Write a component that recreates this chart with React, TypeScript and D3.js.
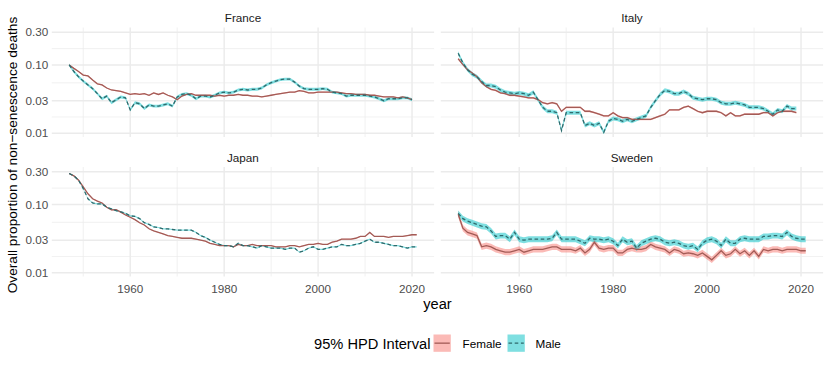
import React from "react";
import * as d3 from "d3";

// ---------- data ----------
const START_YEAR = 1947;

const franceFemale = [
  0.100, 0.089, 0.080, 0.071, 0.069, 0.060, 0.053, 0.051, 0.046, 0.043,
  0.042, 0.041, 0.039, 0.037, 0.038, 0.037, 0.038, 0.036, 0.039, 0.037,
  0.039, 0.036, 0.034, 0.031, 0.035, 0.037, 0.038, 0.036, 0.036, 0.036,
  0.036, 0.035, 0.036, 0.035, 0.036, 0.036, 0.037, 0.036, 0.036, 0.035,
  0.035, 0.034, 0.035, 0.036, 0.037, 0.038, 0.039, 0.040, 0.040, 0.042,
  0.041, 0.039, 0.039, 0.040, 0.040, 0.040, 0.040, 0.040, 0.039, 0.038,
  0.038, 0.037, 0.037, 0.037, 0.036, 0.036, 0.035, 0.034, 0.034, 0.034,
  0.033, 0.034, 0.033, 0.031,
];
const franceMale = [
  0.100, 0.080, 0.067, 0.058, 0.051, 0.045, 0.038, 0.032, 0.035, 0.028,
  0.031, 0.034, 0.033, 0.022, 0.028, 0.027, 0.023, 0.026, 0.025, 0.025,
  0.026, 0.027, 0.025, 0.034, 0.037, 0.038, 0.036, 0.032, 0.035, 0.035,
  0.034, 0.036, 0.039, 0.040, 0.039, 0.040, 0.043, 0.044, 0.043, 0.044,
  0.044, 0.046, 0.051, 0.055, 0.058, 0.061, 0.062, 0.062, 0.056, 0.049,
  0.045, 0.044, 0.044, 0.044, 0.045, 0.044, 0.040, 0.039, 0.038, 0.035,
  0.036, 0.036, 0.036, 0.036, 0.035, 0.034, 0.032, 0.030, 0.032, 0.032,
  0.032, 0.033, 0.033, 0.031,
];
const italyFemale = [
  0.123, 0.101, 0.085, 0.076, 0.067, 0.055, 0.048, 0.044, 0.0425, 0.039,
  0.038, 0.036, 0.036, 0.035, 0.034, 0.033, 0.033, 0.031, 0.028, 0.027,
  0.028, 0.027, 0.021, 0.024, 0.024, 0.024, 0.024, 0.021, 0.021, 0.020,
  0.019, 0.018, 0.018, 0.020, 0.018, 0.017, 0.017, 0.016, 0.016, 0.016,
  0.016, 0.016, 0.017, 0.018, 0.019, 0.022, 0.022, 0.022, 0.024, 0.025,
  0.023, 0.021, 0.020, 0.021, 0.021, 0.021, 0.020, 0.018, 0.020, 0.018,
  0.018, 0.019, 0.019, 0.019, 0.019, 0.020, 0.020, 0.018, 0.020, 0.021,
  0.021, 0.021, 0.020,
];
const italyMale = [
  0.148, 0.107, 0.085, 0.073, 0.067, 0.057, 0.050, 0.050, 0.048, 0.043,
  0.040, 0.039, 0.038, 0.039, 0.038, 0.036, 0.040, 0.031, 0.024, 0.021,
  0.021, 0.020, 0.011, 0.020, 0.020, 0.020, 0.020, 0.013, 0.014, 0.013,
  0.014, 0.0104, 0.015, 0.0165, 0.016, 0.015, 0.016, 0.015, 0.016, 0.017,
  0.018, 0.024, 0.030, 0.037, 0.0425, 0.041, 0.038, 0.038, 0.041, 0.038,
  0.033, 0.032, 0.031, 0.032, 0.032, 0.031, 0.028, 0.027, 0.027, 0.028,
  0.027, 0.026, 0.024, 0.024, 0.024, 0.023, 0.021, 0.019, 0.022, 0.021,
  0.025, 0.023, 0.023,
];
const japanFemale = [
  0.283, 0.262, 0.226, 0.180, 0.143, 0.121, 0.112, 0.105, 0.091, 0.083,
  0.084, 0.077, 0.070, 0.065, 0.060, 0.054, 0.050, 0.044, 0.041, 0.039,
  0.037, 0.035, 0.034, 0.033, 0.032, 0.032, 0.032, 0.031, 0.030, 0.029,
  0.027, 0.026, 0.025, 0.025, 0.025, 0.024, 0.026, 0.025, 0.025, 0.026,
  0.025, 0.025, 0.025, 0.025, 0.024, 0.024, 0.024, 0.025, 0.025, 0.024,
  0.025, 0.026, 0.026, 0.027, 0.026, 0.026, 0.028, 0.029, 0.031, 0.031,
  0.031, 0.032, 0.034, 0.034, 0.039, 0.034, 0.034, 0.034, 0.033, 0.034,
  0.034, 0.034, 0.035, 0.036, 0.036,
];
const japanMale = [
  0.283, 0.262, 0.226, 0.170, 0.121, 0.105, 0.102, 0.102, 0.091, 0.086,
  0.081, 0.078, 0.074, 0.068, 0.067, 0.062, 0.054, 0.051, 0.047, 0.046,
  0.044, 0.044, 0.043, 0.042, 0.042, 0.042, 0.042, 0.039, 0.035, 0.033,
  0.030, 0.028, 0.026, 0.025, 0.025, 0.024, 0.027, 0.025, 0.025, 0.024,
  0.023, 0.025, 0.024, 0.023, 0.023, 0.023, 0.022, 0.023, 0.023, 0.020,
  0.021, 0.023, 0.024, 0.022, 0.022, 0.023, 0.024, 0.024, 0.026, 0.025,
  0.025, 0.026, 0.027, 0.029, 0.031, 0.028, 0.028, 0.027, 0.026, 0.025,
  0.025, 0.024, 0.023, 0.024, 0.024,
];
const swedenFemale = [
  0.072, 0.045, 0.039, 0.037, 0.035, 0.024, 0.025, 0.024, 0.022, 0.021,
  0.020, 0.020, 0.021, 0.022, 0.020, 0.021, 0.022, 0.022, 0.022, 0.023,
  0.024, 0.024, 0.022, 0.022, 0.022, 0.021, 0.023, 0.0195, 0.022, 0.028,
  0.023, 0.022, 0.023, 0.023, 0.0195, 0.0195, 0.022, 0.023, 0.022, 0.022,
  0.023, 0.026, 0.024, 0.023, 0.022, 0.0195, 0.022, 0.021, 0.019, 0.0195,
  0.019, 0.018, 0.0195, 0.0174, 0.0155, 0.018, 0.021, 0.018, 0.019, 0.022,
  0.019, 0.021, 0.018, 0.021, 0.0174, 0.022, 0.021, 0.022, 0.022, 0.021,
  0.022, 0.022, 0.022, 0.021, 0.021,
];
const swedenMale = [
  0.074, 0.062, 0.057, 0.054, 0.051, 0.048, 0.047, 0.041, 0.034, 0.035,
  0.035, 0.031, 0.039, 0.031, 0.030, 0.031, 0.031, 0.031, 0.031, 0.031,
  0.032, 0.039, 0.031, 0.031, 0.031, 0.031, 0.029, 0.027, 0.032, 0.031,
  0.031, 0.030, 0.031, 0.029, 0.025, 0.031, 0.028, 0.029, 0.023, 0.027,
  0.029, 0.031, 0.032, 0.031, 0.028, 0.027, 0.028, 0.027, 0.025, 0.024,
  0.025, 0.022, 0.027, 0.030, 0.031, 0.029, 0.025, 0.031, 0.027, 0.027,
  0.031, 0.032, 0.031, 0.031, 0.031, 0.034, 0.034, 0.035, 0.035, 0.034,
  0.039, 0.034, 0.032, 0.031, 0.031,
];

// multiplicative half-width of the 95% HPD interval (estimated per series)
const hpdFemale = [1.02, 1.03, 1.015, 1.11];
const hpdMale = [1.05, 1.07, 1.02, 1.105];

const countries = ["France", "Italy", "Japan", "Sweden"];
const femaleSeries = [franceFemale, italyFemale, japanFemale, swedenFemale];
const maleSeries = [franceMale, italyMale, japanMale, swedenMale];

const yBreaks = [0.01, 0.03, 0.1, 0.3];
const yBreakLabels = ["0.01", "0.03", "0.10", "0.30"];
const yMinorBreaks = [0.01732, 0.05477, 0.1732];
const xBreaks = [1960, 1980, 2000, 2020];
const xMinorBreaks = [1950, 1970, 1990, 2010];
const sexLabels = ["Female", "Male"];

// ---------- styling ----------
const FONT = "'Liberation Sans', Arial, Helvetica, sans-serif";
const GRID = "#EBEBEB";
const FEMALE_FILL = "rgba(248,118,109,0.5)";
const MALE_FILL = "rgba(0,191,196,0.5)";
const FEMALE_LINE = "#A35B56";
const MALE_LINE = "#2F6A6C";
const DASH = "3.6,2.6";

const colX = [
  [51.8, 434.1],
  [440.8, 823.1],
];
const rowY = [
  [27.5, 137],
  [167, 276.5],
];
const X_DOMAIN = [1943.3, 2024.7];
const Y_DOMAIN = [0.00883, 0.3526];

type Pt = { year: number; v: number };

function toPts(arr: number[]): Pt[] {
  return arr.map((v, i) => ({ year: START_YEAR + i, v }));
}

function Panel({ idx }: { idx: number }) {
  const col = idx % 2;
  const row = Math.floor(idx / 2);
  const [x0, x1] = colX[col];
  const [y0, y1] = rowY[row];
  const x = d3.scaleLinear().domain(X_DOMAIN).range([x0, x1]);
  const y = d3.scaleLog().domain(Y_DOMAIN).range([y1, y0]);
  const fem = toPts(femaleSeries[idx]);
  const mal = toPts(maleSeries[idx]);
  const area = (f: number) =>
    d3
      .area<Pt>()
      .x((d) => x(d.year))
      .y0((d) => y(d.v / f))
      .y1((d) => y(d.v * f));
  const line = d3
    .line<Pt>()
    .x((d) => x(d.year))
    .y((d) => y(d.v));
  const clipId = `clip-${idx}`;
  return (
    <g>
      <defs>
        <clipPath id={clipId}>
          <rect x={x0} y={y0} width={x1 - x0} height={y1 - y0} />
        </clipPath>
      </defs>
      {yMinorBreaks.map((b) => (
        <line key={"ym" + b} x1={x0} x2={x1} y1={y(b)} y2={y(b)} stroke={GRID} strokeWidth={0.71} />
      ))}
      {xMinorBreaks.map((b) => (
        <line key={"xm" + b} x1={x(b)} x2={x(b)} y1={y0} y2={y1} stroke={GRID} strokeWidth={0.71} />
      ))}
      {yBreaks.map((b) => (
        <line key={"y" + b} x1={x0} x2={x1} y1={y(b)} y2={y(b)} stroke={GRID} strokeWidth={1.42} />
      ))}
      {xBreaks.map((b) => (
        <line key={"x" + b} x1={x(b)} x2={x(b)} y1={y0} y2={y1} stroke={GRID} strokeWidth={1.42} />
      ))}
      <g clipPath={`url(#${clipId})`}>
        <path d={area(hpdFemale[idx])(fem) || ""} fill={FEMALE_FILL} />
        <path d={area(hpdMale[idx])(mal) || ""} fill={MALE_FILL} />
        <path d={line(fem) || ""} fill="none" stroke={FEMALE_LINE} strokeWidth={1.3} />
        <path
          d={line(mal) || ""}
          fill="none"
          stroke={MALE_LINE}
          strokeWidth={1.3}
          strokeDasharray={DASH}
        />
      </g>
      <text
        x={(x0 + x1) / 2}
        y={y0 - 5.5}
        textAnchor="middle"
        fontSize={11.7}
        fill="#1A1A1A"
        fontFamily={FONT}
      >
        {countries[idx]}
      </text>
      {col === 0 &&
        yBreaks.map((b, i) => (
          <text
            key={"yl" + b}
            x={x0 - 3.5}
            y={y(b)}
            dy="0.35em"
            textAnchor="end"
            fontSize={11.7}
            fill="#4D4D4D"
            fontFamily={FONT}
          >
            {yBreakLabels[i]}
          </text>
        ))}
      {row === 1 &&
        xBreaks.map((b) => (
          <text
            key={"xl" + b}
            x={x(b)}
            y={y1 + 16.5}
            textAnchor="middle"
            fontSize={11.7}
            fill="#4D4D4D"
            fontFamily={FONT}
          >
            {b}
          </text>
        ))}
    </g>
  );
}

export default function App() {
  const W = 830;
  const H = 369;
  const key = 17.3;
  const keyY = 334.5;
  const keyX = [433.5, 507.5];
  const labX = [462.5, 535.5];
  return (
    <svg
      width={W}
      height={H}
      viewBox={`0 0 ${W} ${H}`}
      style={{ position: "absolute", left: 0, top: 0, display: "block", background: "#fff" }}
    >
      <rect x={0} y={0} width={W} height={H} fill="#fff" />
      {countries.map((c, i) => (
        <Panel key={c} idx={i} />
      ))}
      <text
        transform={`translate(17,155) rotate(-90)`}
        textAnchor="middle"
        fontSize={13.7}
        fill="#000"
        fontFamily={FONT}
      >
        Overall proportion of non−senescence deaths
      </text>
      <text x={437.5} y={308.5} textAnchor="middle" fontSize={14.67} fill="#000" fontFamily={FONT}>
        year
      </text>
      <text x={314} y={348.5} fontSize={14.67} fill="#000" fontFamily={FONT}>
        95% HPD Interval
      </text>
      {sexLabels.map((s, i) => (
        <g key={s}>
          <rect
            x={keyX[i]}
            y={keyY}
            width={key}
            height={key}
            fill={i === 0 ? FEMALE_FILL : MALE_FILL}
          />
          <line
            x1={keyX[i] + 1}
            x2={keyX[i] + key - 1}
            y1={keyY + key / 2}
            y2={keyY + key / 2}
            stroke={i === 0 ? FEMALE_LINE : MALE_LINE}
            strokeWidth={1.3}
            strokeDasharray={i === 0 ? undefined : DASH}
          />
          <text x={labX[i]} y={347.5} fontSize={11.7} fill="#000" fontFamily={FONT}>
            {s}
          </text>
        </g>
      ))}
    </svg>
  );
}
